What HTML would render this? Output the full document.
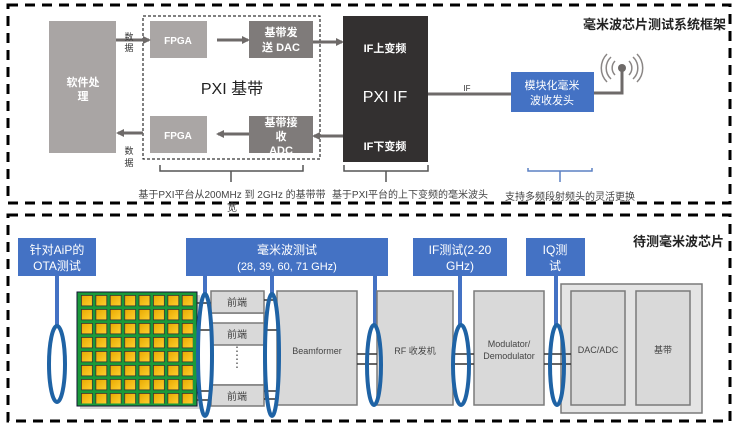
<!DOCTYPE html>
<html><head><meta charset="utf-8"><style>
html,body{margin:0;padding:0;background:#fff;}
svg{display:block;font-family:"Liberation Sans","Noto Sans CJK SC",sans-serif;}
</style></head><body>
<svg width="739" height="431" viewBox="0 0 739 431" xmlns="http://www.w3.org/2000/svg">
<defs>
<marker id="ar" markerWidth="8" markerHeight="8" refX="6" refY="4" orient="auto" markerUnits="userSpaceOnUse"><path d="M0,0 L8,4 L0,8 z" fill="#6e6a69"/></marker>
<linearGradient id="sq" x1="0" y1="0" x2="1" y2="1"><stop offset="0" stop-color="#e8a800"/><stop offset="1" stop-color="#ffd030"/></linearGradient>
<pattern id="grid" x="81" y="295" width="14.4" height="14" patternUnits="userSpaceOnUse">
<rect x="0.4" y="0.4" width="11" height="10.5" fill="url(#sq)" stroke="#333" stroke-width="0.8"/>
</pattern>
</defs>
<rect x="8" y="5" width="722" height="198" fill="none" stroke="#000" stroke-width="3" stroke-dasharray="10,7"/>
<rect x="8" y="215" width="722" height="206" fill="none" stroke="#000" stroke-width="3" stroke-dasharray="10,7"/>
<text x="726" y="29" text-anchor="end" font-size="13" font-weight="bold" fill="#222">毫米波芯片测试系统框架</text>
<text x="724" y="246" text-anchor="end" font-size="13" font-weight="bold" fill="#222">待测毫米波芯片</text>

<rect x="49" y="21" width="67" height="132" fill="#a9a5a4"/>
<text x="83" y="86" text-anchor="middle" font-size="11" font-weight="bold" fill="#fff">软件处</text>
<text x="83" y="100" text-anchor="middle" font-size="11" font-weight="bold" fill="#fff">理</text>
<rect x="143" y="16" width="177" height="143" fill="none" stroke="#000" stroke-width="1" stroke-dasharray="3,2"/>
<rect x="150" y="21" width="57" height="37" fill="#aaa6a5"/>
<text x="178" y="44" text-anchor="middle" font-size="10" font-weight="bold" fill="#fff">FPGA</text>
<rect x="150" y="116" width="57" height="37" fill="#aaa6a5"/>
<text x="178" y="139" text-anchor="middle" font-size="10" font-weight="bold" fill="#fff">FPGA</text>
<rect x="249" y="21" width="64" height="37" fill="#7f7b7a"/>
<text x="281" y="36" text-anchor="middle" font-size="11" font-weight="bold" fill="#fff">基带发</text>
<text x="281" y="51" text-anchor="middle" font-size="11" font-weight="bold" fill="#fff">送 DAC</text>
<rect x="249" y="116" width="64" height="37" fill="#7f7b7a"/>
<text x="281" y="126" text-anchor="middle" font-size="11" font-weight="bold" fill="#fff">基带接</text>
<text x="281" y="140" text-anchor="middle" font-size="11" font-weight="bold" fill="#fff">收</text>
<text x="281" y="154" text-anchor="middle" font-size="11" font-weight="bold" fill="#fff">ADC</text>
<text x="232" y="94" text-anchor="middle" font-size="16" fill="#222">PXI 基带</text>
<g stroke="#6e6a69" stroke-width="3" marker-end="url(#ar)">
<line x1="116" y1="40" x2="149" y2="40"/>
<line x1="217" y1="40" x2="248" y2="40"/>
<line x1="313" y1="42" x2="342" y2="42"/>
<line x1="343" y1="136" x2="314" y2="136"/>
<line x1="249" y1="134" x2="218" y2="134"/>
<line x1="143" y1="133" x2="118" y2="133"/>
</g>
<text x="129" y="40" text-anchor="middle" font-size="9" fill="#333">数</text>
<text x="129" y="51" text-anchor="middle" font-size="9" fill="#333">据</text>
<text x="129" y="154" text-anchor="middle" font-size="9" fill="#333">数</text>
<text x="129" y="166" text-anchor="middle" font-size="9" fill="#333">据</text>
<rect x="343" y="16" width="85" height="146" fill="#333030"/>
<text x="385" y="52" text-anchor="middle" font-size="11" font-weight="bold" fill="#fff">IF上变频</text>
<text x="385" y="102" text-anchor="middle" font-size="16" fill="#fff">PXI IF</text>
<text x="385" y="150" text-anchor="middle" font-size="11" font-weight="bold" fill="#fff">IF下变频</text>
<path d="M160,165 v6 h143 v-6 M231,171 v11" fill="none" stroke="#555" stroke-width="1.5"/>
<path d="M344,165 v6 h84 v-6 M386,171 v11" fill="none" stroke="#555" stroke-width="1.5"/>
<path d="M528,168 v3 h64 v-3 M560,171 v11" fill="none" stroke="#5b80c4" stroke-width="1.5"/>
<text x="232" y="198" text-anchor="middle" font-size="10" fill="#444">基于PXI平台从200MHz 到 2GHz 的基带带</text>
<text x="232" y="211" text-anchor="middle" font-size="10" fill="#444">宽</text>
<text x="410" y="198" text-anchor="middle" font-size="10" fill="#444">基于PXI平台的上下变频的毫米波头</text>
<text x="570" y="200" text-anchor="middle" font-size="10" fill="#444">支持多频段射频头的灵活更换</text>
<line x1="428" y1="94" x2="511" y2="94" stroke="#6e6a69" stroke-width="3"/>
<text x="467" y="91" text-anchor="middle" font-size="8" fill="#333">IF</text>
<rect x="511" y="72" width="83" height="40" fill="#4472c4"/>
<text x="552" y="89" text-anchor="middle" font-size="11" fill="#fff">模块化毫米</text>
<text x="552" y="104" text-anchor="middle" font-size="11" fill="#fff">波收发头</text>
<path d="M594,93 h28 v-25" fill="none" stroke="#6e6a69" stroke-width="3"/>
<circle cx="622" cy="68" r="4" fill="#6e6a69"/>
<g fill="none" stroke="#8a8685" stroke-width="1.5">
<path d="M615,61 a10,10 0 0 0 0,14"/><path d="M611,57 a15,15 0 0 0 0,22"/><path d="M607,54 a20,20 0 0 0 0,28"/>
<path d="M629,61 a10,10 0 0 1 0,14"/><path d="M633,57 a15,15 0 0 1 0,22"/><path d="M637,54 a20,20 0 0 1 0,28"/>
</g>

<g fill="#4472c4">
<rect x="18" y="238" width="78" height="38"/>
<rect x="186" y="238" width="202" height="38"/>
<rect x="413" y="238" width="94" height="38"/>
<rect x="526" y="238" width="59" height="38"/>
</g>
<g fill="#fff" font-size="12" text-anchor="middle">
<text x="57" y="254">针对AiP的</text><text x="57" y="270">OTA测试</text>
<text x="287" y="254">毫米波测试</text><text x="287" y="270" font-size="11">(28, 39, 60, 71 GHz)</text>
<text x="460" y="254">IF测试(2-20</text><text x="460" y="270">GHz)</text>
<text x="555" y="254">IQ测</text><text x="555" y="270">试</text>
</g>
<g stroke="#4472c4" stroke-width="4">
<line x1="57" y1="276" x2="57" y2="326"/>
<line x1="205" y1="276" x2="205" y2="294"/>
<line x1="272" y1="276" x2="272" y2="294"/>
<line x1="375" y1="276" x2="375" y2="326"/>
<line x1="460" y1="276" x2="460" y2="326"/>
<line x1="556" y1="276" x2="556" y2="326"/>
</g>
<rect x="80" y="295" width="120" height="114" fill="#999" opacity="0.4"/>
<rect x="77" y="292" width="120" height="114" fill="#1a9a3a" stroke="#113" stroke-width="1"/>
<rect x="81" y="295" width="112" height="108.5" fill="url(#grid)"/>
<g stroke="#7a7a7a" stroke-width="1.5" fill="#d9d9d9">
<rect x="211" y="313" width="53" height="72" fill="#fff"/>
<rect x="211" y="291" width="53" height="22"/>
<rect x="211" y="323" width="53" height="22"/>
<rect x="211" y="385" width="53" height="21"/>
<rect x="277" y="291" width="80" height="114"/>
<rect x="377" y="291" width="76" height="114"/>
<rect x="474" y="291" width="70" height="114"/>
<rect x="561" y="284" width="141" height="129" fill="#e4e4e4"/>
<rect x="571" y="291" width="54" height="114"/>
<rect x="636" y="291" width="54" height="114"/>
</g>
<g font-size="10" fill="#444" text-anchor="middle">
<text x="237" y="306">前端</text><text x="237" y="338">前端</text><text x="237" y="400">前端</text>
<text x="237" y="355" font-size="12">⋮</text><text x="237" y="367" font-size="12">⋮</text>
<text x="317" y="354" font-size="9">Beamformer</text>
<text x="415" y="354" font-size="9">RF 收发机</text>
<text x="509" y="347" font-size="9">Modulator/</text><text x="509" y="359" font-size="9">Demodulator</text>
<text x="598" y="353" font-size="9">DAC/ADC</text>
<text x="663" y="353" font-size="9">基带</text>
</g>
<g stroke="#333" stroke-width="1.5">
<line x1="197" y1="303" x2="211" y2="303"/><line x1="197" y1="330" x2="211" y2="330"/><line x1="197" y1="391" x2="211" y2="391"/><line x1="197" y1="400" x2="211" y2="400"/>
<line x1="264" y1="300" x2="277" y2="300"/><line x1="264" y1="330" x2="277" y2="330"/><line x1="264" y1="391" x2="277" y2="391"/><line x1="264" y1="399" x2="277" y2="399"/>
<line x1="357" y1="354" x2="377" y2="354"/><line x1="357" y1="364" x2="377" y2="364"/>
<line x1="453" y1="354" x2="474" y2="354"/><line x1="453" y1="364" x2="474" y2="364"/>
<line x1="544" y1="354" x2="571" y2="354"/><line x1="544" y1="364" x2="571" y2="364"/>
</g>
<g fill="none" stroke="#1f63a5" stroke-width="4">
<ellipse cx="57" cy="364" rx="8" ry="38"/>
<ellipse cx="205" cy="355" rx="7" ry="61"/>
<ellipse cx="272" cy="355" rx="7" ry="61"/>
<ellipse cx="374" cy="365" rx="7" ry="40"/>
<ellipse cx="461" cy="365" rx="8" ry="40"/>
<ellipse cx="557" cy="365" rx="7" ry="40"/>
</g>
</svg>
</body></html>
